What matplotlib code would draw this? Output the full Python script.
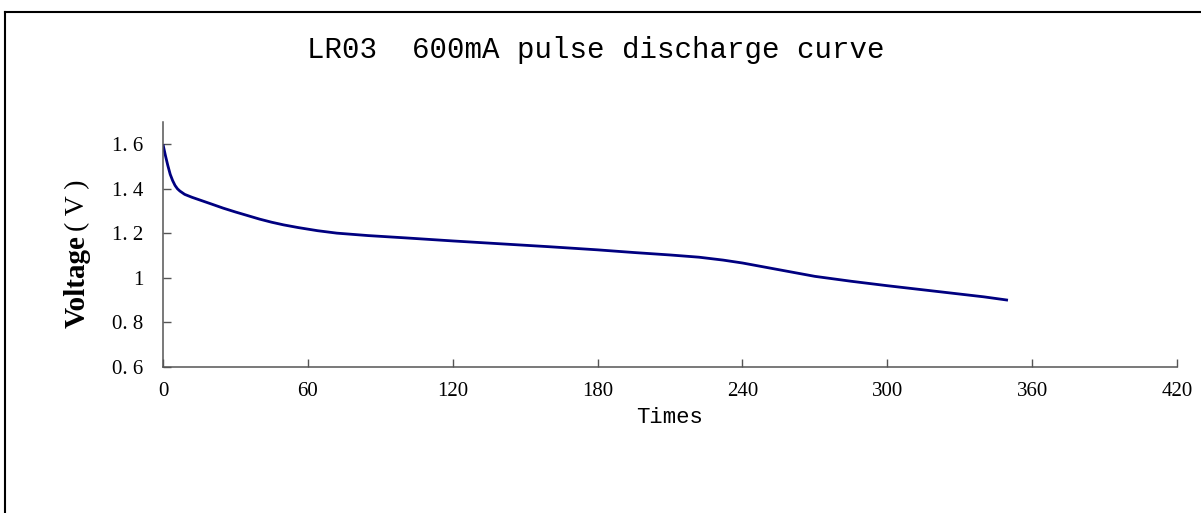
import matplotlib
matplotlib.use('Agg')
import matplotlib.pyplot as plt
from matplotlib.lines import Line2D

# Discharge curve
times = [0, 1, 2, 3, 4, 5, 6, 7, 9, 12, 16, 20, 25, 30, 35, 40, 45, 50, 56,
         64, 72, 85, 100, 120, 140, 160, 180, 195, 210, 222, 232, 240, 255,
         270, 285, 300, 320, 340, 350]
voltage = [1.600, 1.550, 1.505, 1.465, 1.437, 1.415, 1.400, 1.390, 1.375, 1.362,
           1.347, 1.332, 1.313, 1.296, 1.280, 1.264, 1.250, 1.238, 1.226, 1.212,
           1.201, 1.190, 1.180, 1.166, 1.153, 1.140, 1.126, 1.114, 1.103, 1.093,
           1.080, 1.067, 1.037, 1.007, 0.985, 0.965, 0.940, 0.915, 0.900]

x_ticks = [0, 60, 120, 180, 240, 300, 360, 420]
y_ticks = [0.6, 0.8, 1.0, 1.2, 1.4, 1.6]
y_tick_labels = ['0. 6', '0. 8', '1', '1. 2', '1. 4', '1. 6']

mono = 'Liberation Mono'
serif = 'Liberation Serif'

fig = plt.figure(figsize=(12.01, 5.13), dpi=100)
ax = fig.add_axes([0.1357, 0.2846, 0.8443, 0.4776])

ax.plot(times, voltage, color='#000080', linewidth=2.0, solid_capstyle='butt')

ax.set_xlim(0, 420)
ax.set_ylim(0.6, 1.7)
ax.set_xticks(x_ticks)
ax.set_xticklabels([str(t) for t in x_ticks], family=serif, fontsize=15)
ax.set_yticks(y_ticks)
ax.set_yticklabels(y_tick_labels, family=serif, fontsize=15)

for side in ['top', 'right']:
    ax.spines[side].set_visible(False)
for side in ['left', 'bottom']:
    ax.spines[side].set_color('#555555')
    ax.spines[side].set_linewidth(1.1)

ax.tick_params(axis='both', direction='in', length=6, width=1.0, color='#555555')
ax.tick_params(axis='x', pad=11)
ax.tick_params(axis='y', pad=14)

ax.set_xlabel('Times', family=mono, fontsize=16)
ax.xaxis.set_label_coords(0.5, -0.165)

# y label: bold "Voltage" plus the unit in plain type
fig.text(77 / 1201, 1 - 282 / 513, 'Voltage', family=serif, fontsize=21,
         fontweight='bold', rotation=90, ha='center', va='center')
fig.text(78 / 1201, 1 - 205 / 513, '( V )', family=serif,
         fontsize=20, rotation=90, ha='center', va='center')

fig.text(0.496, 0.902, 'LR03  600mA pulse discharge curve', family=mono,
         fontsize=21, ha='center', va='center')

# chart border (cropped at the right and bottom)
fig.add_artist(Line2D([5 / 1201, 1], [1 - 11.5 / 513, 1 - 11.5 / 513],
                      transform=fig.transFigure, color='black', linewidth=1.5))
fig.add_artist(Line2D([5 / 1201, 5 / 1201], [0, 1 - 11.5 / 513],
                      transform=fig.transFigure, color='black', linewidth=1.5))

fig.savefig('out.png', dpi=100)
